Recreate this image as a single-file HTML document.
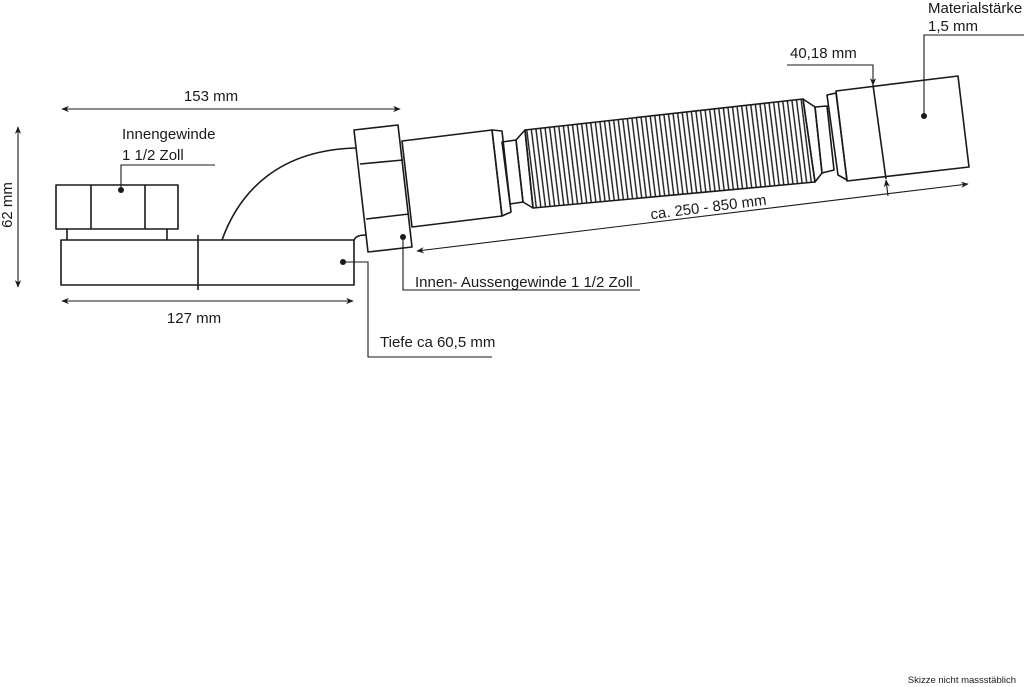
<!DOCTYPE html>
<html><head><meta charset="utf-8"><style>
html,body{margin:0;padding:0;background:#fff;}
svg{display:block;}
text{font-family:"Liberation Sans",sans-serif;font-size:15px;fill:#1a1a1a;}
</style></head><body>
<svg width="1024" height="687" viewBox="0 0 1024 687" xmlns="http://www.w3.org/2000/svg">
<defs>
<marker id="ah" viewBox="0 0 10 10" refX="9" refY="5" markerWidth="7" markerHeight="7" orient="auto-start-reverse"><path d="M0,1 L10,5 L0,9 L3,5 Z" fill="#1a1a1a"/></marker>
<pattern id="rib" width="4.6" height="20" patternUnits="userSpaceOnUse" patternTransform="rotate(-7)"><line x1="1" y1="0" x2="1" y2="20" stroke="#1a1a1a" stroke-width="1.4"/></pattern>
<clipPath id="cc"><polygon points="525,130 803,99 815,182 533,208"/></clipPath>
</defs>
<g fill="none" stroke="#1a1a1a" stroke-width="1.6" stroke-linejoin="round">
<rect x="56" y="185" width="122" height="44" fill="#fff"/>
<line x1="91" y1="185" x2="91" y2="229"/><line x1="145" y1="185" x2="145" y2="229"/>
<line x1="67" y1="229" x2="67" y2="240"/><line x1="167" y1="229" x2="167" y2="240"/>
<rect x="61" y="240" width="293" height="45"/>
<line x1="198" y1="235" x2="198" y2="290"/>
<path d="M222,240 C240,190 280,150 356,148"/>
<path d="M354,240 C356,236 360,235 366,235"/>
<polygon points="354,130 398,125 412,247 368,252" fill="#fff"/>
<line x1="360" y1="164" x2="403" y2="160"/><line x1="366" y1="219" x2="409" y2="214"/>
<polygon points="402,141 492,130 502,216 412,227"/>
<polygon points="492,130 502,131 511,212 502,216"/>
<polygon points="502,142 516,140 523,202 510,204"/>
<polygon points="516,140 525,130 533,208 523,202"/>
<polygon points="525,130 803,99 815,182 533,208"/>
<polygon points="803,99 815,107 822,173 815,182"/>
<polygon points="815,107 827,106 834,170 822,173"/>
<polygon points="827,95 836,93 847,180 838,175"/>
<polygon points="836,91 958,76 969,167 847,181"/>
<line x1="873" y1="85" x2="886" y2="179"/>
</g>
<rect x="500" y="90" width="330" height="130" fill="url(#rib)" clip-path="url(#cc)"/>
<g fill="none" stroke="#1a1a1a" stroke-width="1.1">
<line x1="62" y1="109" x2="400" y2="109" marker-start="url(#ah)" marker-end="url(#ah)"/>
<line x1="18" y1="127" x2="18" y2="287" marker-start="url(#ah)" marker-end="url(#ah)"/>
<line x1="62" y1="301" x2="353" y2="301" marker-start="url(#ah)" marker-end="url(#ah)"/>
<line x1="417" y1="251" x2="968" y2="184" marker-start="url(#ah)" marker-end="url(#ah)"/>
<polyline points="121,190 121,165 215,165"/>
<polyline points="343,262 368,262 368,357 492,357"/>
<polyline points="403,237 403,290 640,290"/>
<polyline points="924,116 924,35 1024,35"/>
<polyline points="787,65 873,65 873,85" marker-end="url(#ah)"/>
<line x1="888" y1="196" x2="886" y2="180" marker-end="url(#ah)"/>
</g>
<g fill="#1a1a1a">
<circle cx="121" cy="190" r="3"/><circle cx="343" cy="262" r="3"/><circle cx="403" cy="237" r="3"/><circle cx="924" cy="116" r="3"/>
</g>
<text x="211" y="101" text-anchor="middle">153 mm</text>
<text x="122" y="139">Innengewinde</text>
<text x="122" y="160">1 1/2 Zoll</text>
<text x="0" y="0" transform="translate(12,205) rotate(-90)" text-anchor="middle">62 mm</text>
<text x="194" y="323" text-anchor="middle">127 mm</text>
<text x="380" y="347">Tiefe ca 60,5 mm</text>
<text x="415" y="287">Innen- Aussengewinde 1 1/2 Zoll</text>
<text x="0" y="0" transform="translate(709,212) rotate(-7.2)" text-anchor="middle">ca. 250 - 850 mm</text>
<text x="790" y="58">40,18 mm</text>
<text x="928" y="13">Materialstärke</text>
<text x="928" y="31">1,5 mm</text>
<text x="1016" y="683" text-anchor="end" style="font-size:9.5px">Skizze nicht massstäblich</text>
</svg>
</body></html>
